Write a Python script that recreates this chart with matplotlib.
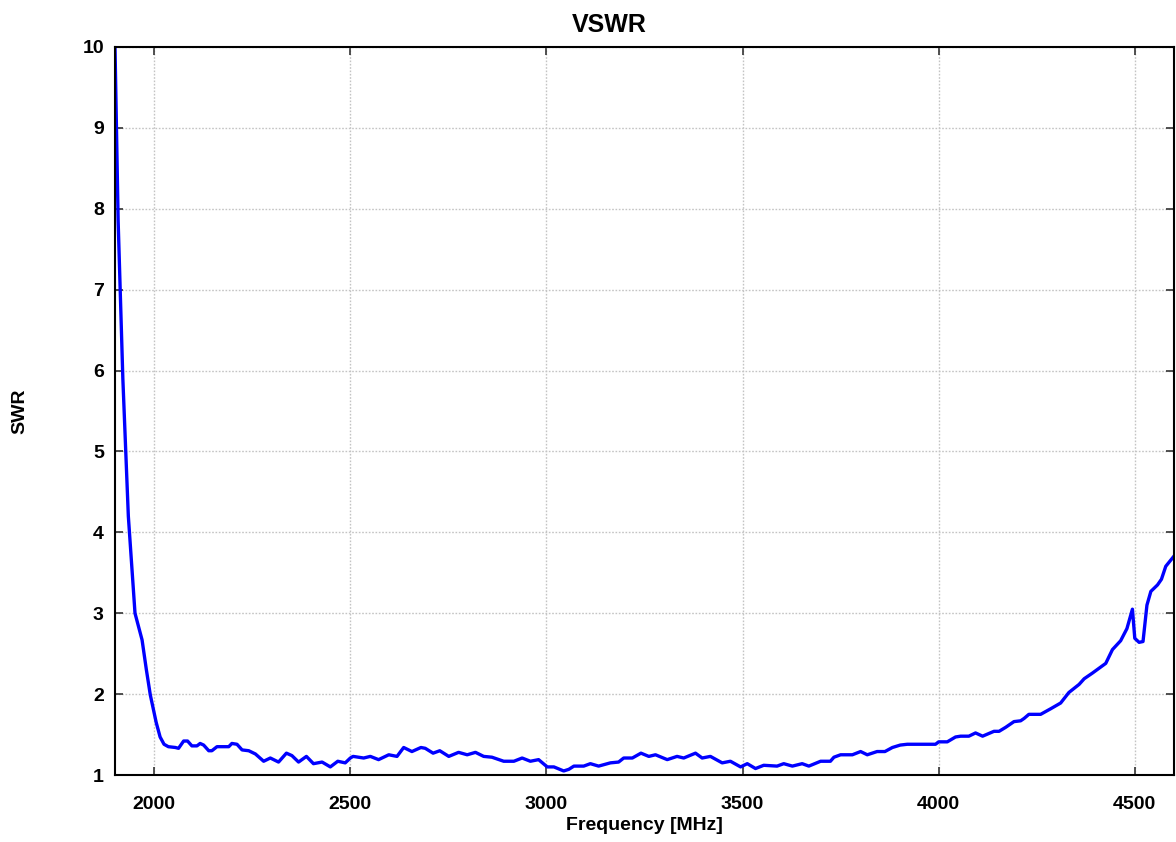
import numpy as np
import matplotlib
matplotlib.use('Agg')
import matplotlib.pyplot as plt

# dati (frequenza in MHz, SWR)
freq_mhz = [1900, 1908, 1920, 1934, 1951, 1969, 1980, 1990, 2005, 2015, 2025, 2036,
            2054, 2062, 2075, 2085, 2096, 2109, 2117, 2126, 2139, 2147, 2160, 2190,
            2198, 2211, 2224, 2241, 2258, 2279, 2296, 2317, 2337, 2351, 2368, 2388,
            2406, 2428, 2449, 2468, 2487, 2500, 2507, 2534, 2551, 2572, 2598, 2619,
            2636, 2657, 2680, 2691, 2711, 2728, 2751, 2776, 2798, 2819, 2840, 2861,
            2891, 2917, 2938, 2959, 2980, 3002, 3019, 3044, 3057, 3070, 3095, 3112,
            3133, 3163, 3184, 3197, 3219, 3241, 3261, 3278, 3308, 3333, 3350, 3380,
            3397, 3418, 3448, 3469, 3495, 3512, 3533, 3554, 3588, 3605, 3627, 3652,
            3669, 3699, 3724, 3733, 3750, 3780, 3801, 3818, 3843, 3863, 3882, 3902,
            3920, 3992, 4000, 4022, 4043, 4056, 4077, 4094, 4112, 4141, 4154, 4171,
            4192, 4209, 4218, 4230, 4260, 4286, 4311, 4324, 4332, 4358, 4371, 4392,
            4409, 4426, 4443, 4464, 4480, 4494, 4500, 4511, 4521, 4531, 4541, 4558,
            4568, 4579, 4604]
swr = [10.0, 7.85, 5.9, 4.2, 3.0, 2.67, 2.3, 1.99, 1.65, 1.47, 1.38, 1.35,
       1.34, 1.33, 1.42, 1.42, 1.36, 1.36, 1.39, 1.37, 1.30, 1.30, 1.35, 1.35,
       1.39, 1.38, 1.31, 1.30, 1.26, 1.17, 1.21, 1.16, 1.27, 1.24, 1.16, 1.23,
       1.14, 1.16, 1.10, 1.17, 1.15, 1.21, 1.23, 1.21, 1.23, 1.19, 1.25, 1.23,
       1.34, 1.29, 1.34, 1.33, 1.27, 1.30, 1.23, 1.28, 1.25, 1.28, 1.23, 1.22,
       1.17, 1.17, 1.21, 1.17, 1.19, 1.10, 1.10, 1.05, 1.07, 1.11, 1.11, 1.14,
       1.11, 1.15, 1.16, 1.21, 1.21, 1.27, 1.23, 1.25, 1.19, 1.23, 1.21, 1.27,
       1.21, 1.23, 1.15, 1.17, 1.10, 1.14, 1.08, 1.12, 1.11, 1.14, 1.11, 1.14,
       1.11, 1.17, 1.17, 1.22, 1.25, 1.25, 1.29, 1.25, 1.29, 1.29, 1.34, 1.37,
       1.38, 1.38, 1.41, 1.41, 1.47, 1.48, 1.48, 1.52, 1.48, 1.54, 1.54, 1.59,
       1.66, 1.67, 1.70, 1.75, 1.75, 1.82, 1.89, 1.97, 2.02, 2.12, 2.19, 2.26,
       2.32, 2.38, 2.55, 2.66, 2.81, 3.05, 2.69, 2.64, 2.65, 3.10, 3.27, 3.35,
       3.42, 3.58, 3.73]

xticks = [2000, 2500, 3000, 3500, 4000, 4500]
yticks = [1, 2, 3, 4, 5, 6, 7, 8, 9, 10]

plt.rcParams['font.family'] = ['Liberation Sans', 'DejaVu Sans']
plt.rcParams['font.weight'] = 'bold'

fig = plt.figure(figsize=(11.76, 8.42), dpi=100)
ax = fig.add_axes([115/1176, 1 - 775/842, (1174 - 115)/1176, (775 - 47)/842])

ax.plot(freq_mhz, swr, color='#0000ff', linewidth=2.4, solid_joinstyle='round')

ax.set_xlim(1900, 4600)
ax.set_ylim(1, 10)
ax.set_xticks(xticks)
ax.set_yticks(yticks)
ax.grid(True, color='#c4c4c4', linestyle=(0, (1.2, 1.2)), linewidth=1.0)
ax.tick_params(direction='in', length=6, width=1.2, top=True, right=True,
               labelsize=14, color='#333333')
ax.tick_params(axis='x', pad=15)
ax.tick_params(axis='y', pad=8)
for lab in ax.get_xticklabels() + ax.get_yticklabels():
    lab.set_fontweight('bold')
for s in ax.spines.values():
    s.set_linewidth(1.5)

ax.set_xlabel("Frequency [MHz]", fontsize=14, fontweight='bold', labelpad=3)
fig.text(20/1176, 1 - 411/842, "SWR", rotation=90, fontsize=14, fontweight='bold',
         ha='center', va='center')
fig.text(609/1176, 1 - 25/842, "VSWR", fontsize=18, fontweight='bold',
         ha='center', va='center')

fig.savefig("out.png", dpi=100)
